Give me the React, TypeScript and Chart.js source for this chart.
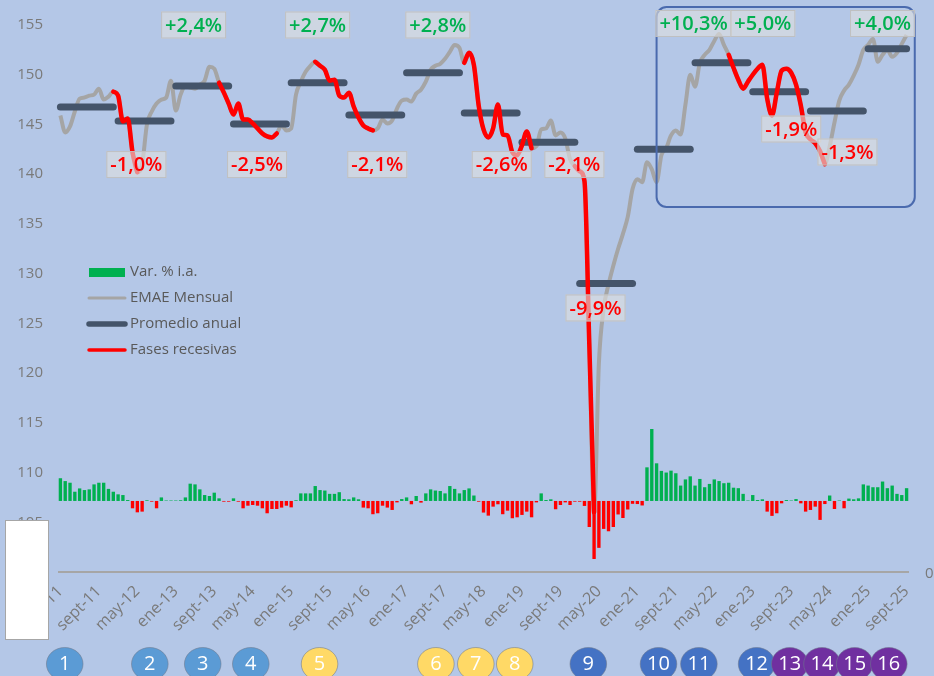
import React, { useEffect, useRef } from 'react';
import { Chart, registerables } from 'chart.js';

Chart.register(...registerables);

// ---------- Data ----------
const MONTHS = ['ene', 'feb', 'mar', 'abr', 'may', 'jun', 'jul', 'ago', 'sept', 'oct', 'nov', 'dic'];
const YEARS = [2011, 2012, 2013, 2014, 2015, 2016, 2017, 2018, 2019, 2020, 2021, 2022, 2023, 2024, 2025];
const MONTHS_IN_LAST_YEAR = 9;

const categories: string[] = [];
YEARS.forEach((yr, yi) => {
  MONTHS.forEach((m, k) => {
    if (yi < YEARS.length - 1 || k < MONTHS_IN_LAST_YEAR) categories.push(`${m}-${String(yr).slice(2)}`);
  });
});

// EMAE mensual (índice)
const emae2011 = [145.9, 144.2, 144.8, 146.3, 147.6, 147.7, 147.9, 148.0, 148.6, 147.5, 147.8, 148.3];
const emae2012 = [147.9, 145.3, 145.6, 142.2, 140.2, 141.0, 145.0, 146.3, 147.1, 147.5, 147.7, 149.4];
const emae2013 = [146.4, 148.0, 148.9, 148.7, 148.6, 149.0, 149.4, 150.8, 150.6, 149.2, 148.2, 147.1];
const emae2014 = [146.0, 147.1, 145.5, 145.5, 145.1, 144.6, 144.1, 143.8, 143.7, 144.1, 144.9, 144.4];
const emae2015 = [144.6, 148.0, 149.3, 150.3, 150.9, 151.3, 150.9, 150.5, 149.4, 149.5, 147.9, 147.7];
const emae2016 = [148.2, 146.8, 145.7, 144.9, 144.6, 144.4, 144.6, 145.5, 145.1, 145.4, 146.6, 147.4];
const emae2017 = [147.5, 147.3, 148.1, 148.5, 149.3, 150.5, 150.9, 151.1, 151.6, 152.3, 153.0, 152.7];
const emae2018 = [151.2, 152.2, 151.0, 146.9, 144.5, 143.7, 144.6, 147.0, 144.0, 143.9, 142.2, 141.9];
const emae2019 = [142.9, 144.3, 142.6, 142.8, 144.5, 144.6, 145.4, 143.9, 144.2, 143.6, 141.5, 140.8];
const emae2020 = [140.3, 139.3, 123.0, 106.0, 121.0, 126.5, 128.9, 130.8, 132.5, 134.0, 135.7, 138.5];
const emae2021 = [139.5, 139.2, 141.2, 140.5, 139.2, 141.9, 142.6, 143.9, 144.4, 144.0, 147.0, 150.0];
const emae2022 = [148.8, 151.2, 152.0, 152.5, 153.4, 154.1, 153.0, 152.0, 150.7, 149.5, 148.6, 149.3];
const emae2023 = [150.0, 150.6, 151.0, 147.6, 145.9, 148.2, 150.4, 150.6, 150.2, 149.0, 146.9, 144.2];
const emae2024 = [143.5, 143.1, 142.3, 141.0, 142.8, 145.2, 147.4, 148.4, 149.0, 149.9, 151.0, 152.5];
const emae2025 = [153.0, 153.6, 151.3, 152.0, 152.5, 151.8, 152.2, 153.1, 154.0];
const emae: number[] = [
  ...emae2011, ...emae2012, ...emae2013, ...emae2014, ...emae2015, ...emae2016, ...emae2017, ...emae2018,
  ...emae2019, ...emae2020, ...emae2021, ...emae2022, ...emae2023, ...emae2024, ...emae2025,
];

// Var. % i.a.
const varIA: number[] = [
  9.6, 8.4, 7.7, 3.9, 5.3, 4.6, 4.9, 7.0, 7.7, 7.7,
  5.1, 3.9, 2.8, 2.5, 0.4, -3.1, -4.8, -4.5, 0.3, -0.3,
  -3.1, 1.5, 0.2, 0.2, 0.2, 0.3, 1.5, 7.3, 7.0, 4.9,
  2.5, 2.1, 3.5, 1.1, -0.3, -0.3, 1.1, -0.3, -3.1, -2.0,
  -1.7, -2.0, -3.1, -5.2, -3.4, -3.4, -2.8, -2.0, -2.7, 0.3,
  3.2, 3.2, 3.2, 6.3, 4.6, 4.4, 3.0, 3.0, 3.7, 0.8,
  0.7, 1.5, 0.7, -2.8, -3.1, -5.6, -5.2, -2.0, -2.8, -3.8,
  -0.6, 0.8, 1.5, -1.4, 2.1, -0.7, 3.2, 4.9, 4.4, 4.2,
  3.2, 6.3, 5.1, 3.2, 4.6, 5.3, 2.3, -0.3, -4.9, -6.2,
  -2.4, -1.4, -5.6, -4.1, -7.3, -6.9, -5.9, -4.5, -6.9, -0.6,
  3.2, 0.4, 0.7, -3.5, -1.7, -0.6, -1.7, -0.3, -0.3, -2.1,
  -11.0, -24.5, -19.8, -11.8, -12.8, -11.0, -5.7, -7.2, -3.6, -1.2,
  -1.3, -1.9, 14.2, 30.4, 15.9, 12.7, 12.0, 12.8, 11.7, 6.5,
  9.1, 10.4, 6.5, 9.3, 5.8, 7.2, 9.1, 8.4, 7.5, 7.7,
  5.6, 5.4, 3.0, 0.2, 2.5, 0.4, 0.7, -4.5, -6.3, -5.2,
  -1.0, 0.4, 0.2, 0.8, -1.0, -4.5, -3.8, -2.4, -8.0, -1.3,
  2.3, -3.4, 0.2, -3.1, 1.0, 0.7, 1.1, 7.0, 6.5, 5.8,
  5.8, 8.2, 5.4, 6.5, 3.0, 2.5, 5.4,
];

// Promedio anual
const annualAvg = [146.75, 145.35, 148.87, 145.05, 149.2, 145.95, 150.2, 146.15, 143.2, 129.0, 142.5, 151.2, 148.3, 146.35, 152.6];

// Fases recesivas (índices de mes, inclusive)
const recessionStart = [11, 33, 53, 84, 107, 139];
const recessionEnd = [16, 45, 65, 98, 111, 159];

// Etiquetas de variación anual
const growthText = ['-1,0%', '+2,4%', '-2,5%', '+2,7%', '-2,1%', '+2,8%', '-2,6%', '-2,1%', '-9,9%', '+10,3%', '+5,0%', '-1,9%', '-1,3%', '+4,0%'];
const growthIdx = [15.8, 27.7, 40.9, 53.5, 65.9, 78.5, 91.8, 106.9, 111.3, 131.7, 146.1, 152.0, 163.7, 171.0];
const growthVal = [140.97, 155.0, 140.97, 155.0, 140.97, 155.0, 140.97, 140.97, 126.55, 155.15, 155.15, 144.54, 142.23, 155.15];

// Círculos numerados
const circleNums = ['1', '2', '3', '4', '5', '6', '7', '8', '9', '10', '11', '12', '13', '14', '15', '16'];
const circleIdx = [0.9, 18.6, 29.6, 39.6, 53.9, 78.1, 86.4, 94.5, 109.8, 124.4, 132.8, 144.8, 151.7, 158.4, 165.2, 172.3];
const circleColors = [
  '#5b9bd5', '#5b9bd5', '#5b9bd5', '#5b9bd5',
  '#ffd966', '#ffd966', '#ffd966', '#ffd966',
  '#4472c4', '#4472c4', '#4472c4', '#4472c4',
  '#7030a0', '#7030a0', '#7030a0', '#7030a0',
];

// Recuadro destacado (índice de mes / valor)
const highlightIdx = [124.0, 177.7];
const highlightVal = [156.8, 136.7];

// ---------- Styling ----------
const BG = '#b4c7e7';
const FONT = "'Open Sans', 'DejaVu Sans', sans-serif";
const GREEN = '#00b050';
const RED = '#ff0000';
const GRAY = '#a5a5a5';
const DARK = '#44546a';
const AXIS_TEXT = '#7a7a7a';

const redData = emae.map((v, i) =>
  recessionStart.some((s, k) => i >= s && i <= recessionEnd[k]) ? v : null
);

const avgDatasets = annualAvg.map((avg, k) => ({
  type: 'line' as const,
  label: 'Promedio anual ' + YEARS[k],
  data: categories.map((_, i) => (Math.floor(i / 12) === k ? avg : null)),
  borderColor: DARK,
  borderWidth: 7,
  borderCapStyle: 'round' as const,
  pointRadius: 0,
  spanGaps: false,
  yAxisID: 'y',
  order: 1,
}));

const overlayPlugin = {
  id: 'overlay',
  beforeDraw(chart: any) {
    const ctx = chart.ctx;
    ctx.save();
    ctx.fillStyle = BG;
    ctx.fillRect(0, 0, chart.width, chart.height);
    ctx.restore();
  },
  afterDraw(chart: any) {
    const { ctx, chartArea } = chart;
    const xs = chart.scales.x;
    const ys = chart.scales.y;
    ctx.save();

    // x axis line
    ctx.strokeStyle = '#a6a6a6';
    ctx.lineWidth = 2;
    ctx.beginPath();
    ctx.moveTo(chartArea.left, chartArea.bottom);
    ctx.lineTo(chartArea.right, chartArea.bottom);
    ctx.stroke();

    // highlight rounded rect
    const rx0 = xs.getPixelForValue(highlightIdx[0]);
    const rx1 = xs.getPixelForValue(highlightIdx[1]);
    const ry0 = ys.getPixelForValue(highlightVal[0]);
    const ry1 = ys.getPixelForValue(highlightVal[1]);
    ctx.strokeStyle = '#4a6aae';
    ctx.lineWidth = 2;
    ctx.beginPath();
    ctx.roundRect(rx0, ry0, rx1 - rx0, ry1 - ry0, 10);
    ctx.stroke();

    // growth labels
    ctx.font = `600 20px ${FONT}`;
    ctx.textAlign = 'center';
    ctx.textBaseline = 'middle';
    growthText.forEach((t, k) => {
      const cx = xs.getPixelForValue(growthIdx[k]);
      const cy = ys.getPixelForValue(growthVal[k]);
      const w = ctx.measureText(t).width + 8;
      const h = 27;
      ctx.fillStyle = 'rgba(222,222,222,0.62)';
      ctx.fillRect(cx - w / 2, cy - h / 2, w, h);
      ctx.strokeStyle = 'rgba(190,190,190,0.9)';
      ctx.lineWidth = 1;
      ctx.strokeRect(cx - w / 2 + 0.5, cy - h / 2 + 0.5, w - 1, h - 1);
      ctx.fillStyle = t.startsWith('+') ? GREEN : RED;
      ctx.fillText(t, cx, cy + 1);
    });

    // legend
    const lx0 = 89, lx1 = 125, tx = 130;
    const rows = [272, 298, 324, 350];
    ctx.fillStyle = GREEN;
    ctx.fillRect(lx0, rows[0] - 4, lx1 - lx0, 9);
    const lineSym = (yy: number, color: string, w: number) => {
      ctx.strokeStyle = color;
      ctx.lineWidth = w;
      ctx.lineCap = 'round';
      ctx.beginPath();
      ctx.moveTo(lx0, yy);
      ctx.lineTo(lx1, yy);
      ctx.stroke();
    };
    lineSym(rows[1], GRAY, 3);
    lineSym(rows[2], DARK, 5.5);
    lineSym(rows[3], RED, 3.5);
    ctx.lineCap = 'butt';
    ctx.font = `15px ${FONT}`;
    ctx.fillStyle = '#595959';
    ctx.textAlign = 'left';
    ctx.textBaseline = 'middle';
    ['Var. % i.a.', 'EMAE Mensual', 'Promedio anual', 'Fases recesivas'].forEach((t, k) => ctx.fillText(t, tx, rows[k]));

    // white box bottom-left
    ctx.fillStyle = '#ffffff';
    ctx.fillRect(6, 520, 43, 120);
    ctx.strokeStyle = '#a6a6a6';
    ctx.lineWidth = 1;
    ctx.strokeRect(5.5, 520.5, 43, 119);

    // "0" at right
    ctx.fillStyle = AXIS_TEXT;
    ctx.font = `15px ${FONT}`;
    ctx.textAlign = 'left';
    ctx.fillText('0', chartArea.right + 16, chartArea.bottom + 2);

    // numbered circles
    const cy = chart.height - 12;
    circleNums.forEach((n, k) => {
      const cx = xs.getPixelForValue(circleIdx[k]);
      ctx.beginPath();
      ctx.ellipse(cx, cy, 18.3, 16.5, 0, 0, Math.PI * 2);
      ctx.fillStyle = circleColors[k];
      ctx.fill();
      ctx.strokeStyle = 'rgba(110,120,140,0.55)';
      ctx.lineWidth = 1;
      ctx.stroke();
      ctx.fillStyle = '#ffffff';
      ctx.font = `20px ${FONT}`;
      ctx.textAlign = 'center';
      ctx.textBaseline = 'middle';
      ctx.fillText(n, cx, cy);
    });

    ctx.restore();
  },
};

export default function App() {
  const canvasRef = useRef<HTMLCanvasElement | null>(null);

  useEffect(() => {
    document.body.style.margin = '0';
    const canvas = canvasRef.current;
    if (!canvas) return;
    const chart = new Chart(canvas, {
      type: 'bar',
      data: {
        labels: categories,
        datasets: [
          {
            type: 'line',
            label: 'Fases recesivas',
            data: redData,
            borderColor: RED,
            borderWidth: 4.5,
            borderCapStyle: 'round',
            borderJoinStyle: 'round',
            pointRadius: 0,
            spanGaps: false,
            cubicInterpolationMode: 'monotone',
            yAxisID: 'y',
            order: 0,
          },
          ...avgDatasets,
          {
            type: 'line',
            label: 'EMAE Mensual',
            data: emae,
            borderColor: GRAY,
            borderWidth: 4,
            borderJoinStyle: 'round',
            pointRadius: 0,
            cubicInterpolationMode: 'monotone',
            yAxisID: 'y',
            order: 2,
          },
          {
            type: 'bar',
            label: 'Var. % i.a.',
            data: varIA,
            backgroundColor: varIA.map((v) => (v >= 0 ? GREEN : RED)),
            barPercentage: 0.7,
            categoryPercentage: 1,
            yAxisID: 'y2',
            order: 3,
          },
        ] as any,
      },
      options: {
        responsive: false,
        animation: false,
        devicePixelRatio: 1,
        layout: { padding: { left: 8, right: 25, top: 25, bottom: 0 } },
        plugins: { legend: { display: false }, tooltip: { enabled: false } },
        scales: {
          x: {
            grid: { display: false, drawTicks: false },
            border: { display: false },
            ticks: {
              autoSkip: false,
              minRotation: 45,
              maxRotation: 45,
              padding: 10,
              color: AXIS_TEXT,
              font: { family: FONT, size: 16 },
              callback: (_v: any, i: number) => (i % 8 === 0 ? categories[i] : ''),
            },
            afterFit: (s: any) => {
              s.height = 104;
            },
          },
          y: {
            position: 'left',
            min: 100,
            max: 155,
            grid: { display: false, drawTicks: false },
            border: { display: false },
            ticks: { stepSize: 5, padding: 15, color: AXIS_TEXT, font: { family: FONT, size: 15 } },
            afterFit: (s: any) => {
              s.width = 50;
            },
          },
          y2: { display: false, min: -30, max: 201 },
        },
      } as any,
      plugins: [overlayPlugin],
    });
    return () => chart.destroy();
  }, []);

  return (
    <div style={{ width: 934, height: 676, background: BG }}>
      <canvas ref={canvasRef} width={934} height={676} style={{ display: 'block' }} />
    </div>
  );
}
